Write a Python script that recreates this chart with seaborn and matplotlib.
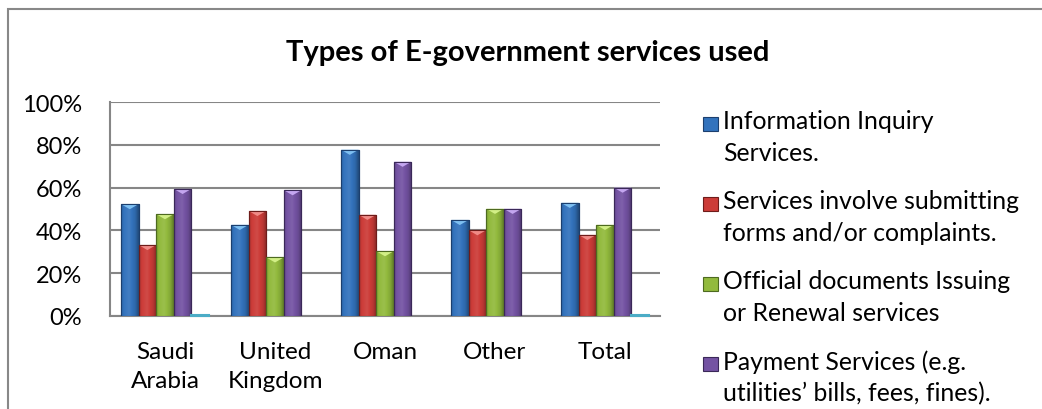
import numpy as np
import pandas as pd
import matplotlib
matplotlib.use("Agg")
import matplotlib.pyplot as plt
import matplotlib.colors as mcolors
import seaborn as sns
from matplotlib.patches import Rectangle, Polygon

# ---- data ----
regions = ["Saudi\nArabia", "United\nKingdom", "Oman", "Other", "Total"]
services = [
    "Information Inquiry\nServices.",
    "Services involve submitting\nforms and/or complaints.",
    "Official documents Issuing\nor Renewal services",
    "Payment Services (e.g.\nutilities\u2019 bills, fees, fines).",
    "Other services",
]
info_inquiry = [52.3, 42.6, 77.7, 44.9, 52.9]
submitting_forms = [33.2, 49.1, 47.3, 40.1, 37.9]
official_docs = [47.6, 27.4, 30.3, 50.1, 42.6]
payment = [59.4, 58.8, 72.1, 50.1, 60.0]
other_services = [0.6, 0.0, 0.0, 0.0, 0.6]
yticks = [0, 20, 40, 60, 80, 100]
title = "Types of E-government services used"
colors = ["#3373bd", "#cc3c38", "#92ba3d", "#7453a3", "#4bacc6"]
edge_colors = ["#1c3f6e", "#6e1c1a", "#4d6a20", "#3a2858", "#2a6f82"]
tip_colors = ["#7ec0f2", "#f08a86", "#d2ef86", "#c4a6f0", "#8fd8ea"]
legend_count = 4

series = [info_inquiry, submitting_forms, official_docs, payment, other_services]
df = pd.DataFrame({
    "region": regions * len(services),
    "service": [s for s in services for _ in regions],
    "value": [v for vals in series for v in vals],
})

sns.set_theme(style="white")
plt.rcParams["font.family"] = ["Lato", "DejaVu Sans"]

W, H = 1042, 410
fig = plt.figure(figsize=(W / 100, H / 100), dpi=100)
ax = fig.add_axes([110 / W, (H - 317) / H, 550 / W, 214 / H])

sns.barplot(data=df, x="region", y="value", hue="service", order=regions,
            hue_order=services, palette=colors, width=0.8, legend=False,
            saturation=1, ax=ax)

ax.set_ylim(0, 100)
ax.set_xlim(-0.5, len(regions) - 0.5)


def shade(c, f):
    r, g, b = mcolors.to_rgb(c)
    if f >= 0:
        return (r + (1 - r) * f, g + (1 - g) * f, b + (1 - b) * f)
    return (r * (1 + f), g * (1 + f), b * (1 + f))


# gradient / bevel styling on top of the seaborn bars
prof = np.linspace(0, 1, 40)
factors = np.interp(prof, [0, 0.15, 0.45, 0.8, 1.0], [-0.15, 0.0, 0.08, -0.1, -0.35])
tip_h = 2.4
for i, cont in enumerate(ax.containers):
    grad = np.array([[shade(colors[i], f) for f in factors]])
    for bar in cont:
        bar.set_edgecolor(edge_colors[i])
        bar.set_linewidth(0.8)
        bar.set_zorder(3)
        x, w, h = bar.get_x(), bar.get_width(), bar.get_height()
        if h <= 0:
            bar.set_visible(False)
            continue
        if h > 3:
            im = ax.imshow(grad, extent=[x, x + w, 0, h], aspect="auto",
                           zorder=3.1, interpolation="bilinear")
            im.set_clip_path(bar)
            ax.add_patch(Polygon([[x, h], [x + w, h], [x + w / 2, h - tip_h]],
                                 closed=True, facecolor=tip_colors[i],
                                 edgecolor="none", zorder=3.2))
            ax.add_patch(Rectangle((x, 0), w, h, fill=False,
                                   edgecolor=edge_colors[i], linewidth=0.8,
                                   zorder=3.3))
        else:
            bar.set_clip_on(False)
            bar.set_linewidth(1.5)
            bar.set_edgecolor(colors[i])
            bar.set_zorder(4)

ax.set_xlim(-0.5, len(regions) - 0.5)
ax.set_ylim(0, 100)
ax.set_yticks(yticks)
ax.set_yticklabels([f"{t}%" for t in yticks])
ax.set_xlabel("")
ax.set_ylabel("")
ax.yaxis.grid(True, color="#868686", linewidth=1.5)
ax.set_axisbelow(True)
for side in ["top", "right"]:
    ax.spines[side].set_visible(False)
for side in ["left", "bottom"]:
    ax.spines[side].set_color("#868686")
    ax.spines[side].set_linewidth(1.5)
ax.tick_params(axis="y", length=0, pad=20, labelsize=17, colors="black")
ax.tick_params(axis="x", length=0, pad=18, labelsize=17.5, colors="black")
for lab in ax.get_xticklabels():
    lab.set_linespacing(1.45)

# title
fig.text(528 / W, 1 - 53 / H, title, ha="center", va="center",
         fontsize=21, fontweight="bold", color="black")

# outer chart border
fig.patches.append(Rectangle((8 / W, -0.1), 1.2, 1 - 10 / H + 0.1,
                             transform=fig.transFigure, fill=False,
                             edgecolor="#888888", linewidth=1.5))

# legend (first four series)
first_line_y = [125, 205, 285, 365]
for i in range(legend_count):
    y = first_line_y[i]
    fig.patches.append(Rectangle((703 / W, 1 - (y + 7) / H), 15 / W, 14 / H,
                                 transform=fig.transFigure,
                                 facecolor=colors[i], edgecolor=edge_colors[i],
                                 linewidth=0.8))
    fig.text(723 / W, 1 - (y - 15) / H, services[i], ha="left", va="top",
             fontsize=17.8, linespacing=1.45, color="black")

fig.savefig("out.png", dpi=100)
